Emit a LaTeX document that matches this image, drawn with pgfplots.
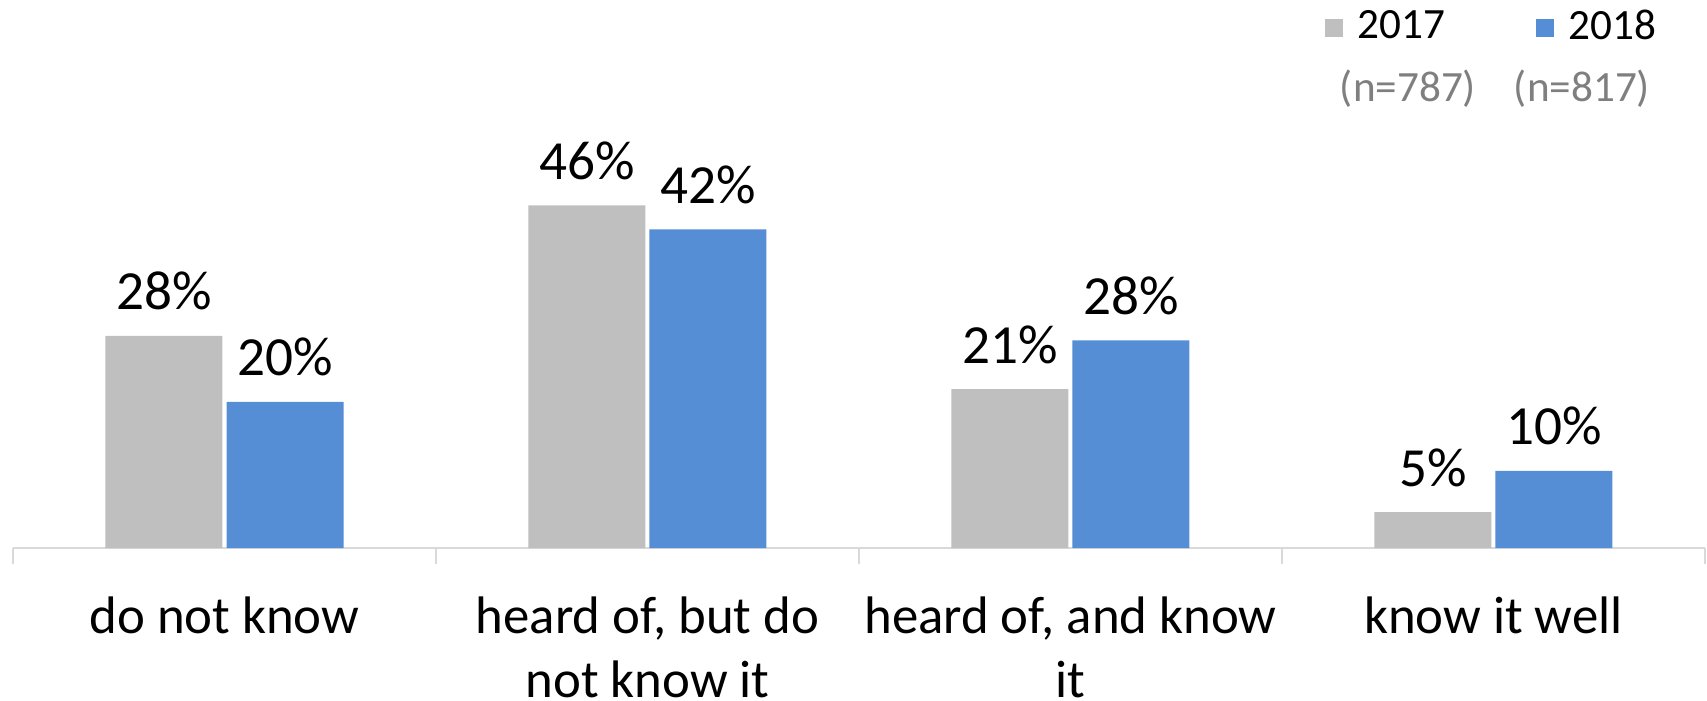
\documentclass[border=0pt]{standalone}
\usepackage{pgfplots}
\pgfplotsset{compat=1.18}
\usepackage{fontspec}
\setmainfont{Carlito}
\definecolor{cgray}{HTML}{BFBFBF}
\definecolor{cblue}{HTML}{558ED5}
\definecolor{axgray}{HTML}{D9D9D9}
\definecolor{ntext}{HTML}{7F7F7F}
\begin{document}
\begin{tikzpicture}
\begin{axis}[
  name=ax,
  scale only axis,
  width=423pt, height=112.5pt,
  xmin=-0.5, xmax=3.5,
  ymin=0, ymax=60,
  clip=false,
  ybar=1pt,
  bar width=29.25pt,
  axis x line*=bottom,
  axis y line=none,
  axis line style={draw=axgray, line width=0.5pt, -},
  xtick={0,1,2,3},
  xticklabels={do not know, {heard of, but do\\not know it}, {heard of, and know\\it}, know it well},
  minor xtick={-0.5,0.5,1.5,2.5,3.5},
  major tick length=0pt,
  minor tick length=4pt,
  tick align=outside,
  minor tick style={draw=axgray, line width=0.5pt},
  xticklabel style={font=\fontsize{13.2}{16}\selectfont, align=center, anchor=north, yshift=-12.1pt, inner sep=0pt, text=black},
  point meta=explicit symbolic,
  nodes near coords={\pgfplotspointmeta\%},
  every node near coord/.append style={font=\fontsize{13.8}{16}\selectfont, anchor=base, yshift=6.5pt, inner sep=0pt, text=black},
  legend columns=2,
  legend style={draw=none, at={(0.7754,1.1567)}, anchor=west, inner sep=0pt, outer sep=0pt,
    font=\fontsize{10.8}{13}\selectfont,
    nodes={inner sep=0pt},
    /tikz/every odd column/.append style={column sep=3.75pt},
    /tikz/every even column/.append style={column sep=22.5pt}},
  legend image code/.code={\fill[#1] (0pt,-2.25pt) rectangle (4.5pt,2.25pt);},
]
\addplot[fill=cgray, draw=none] coordinates {(0,28.3) [28] (1,45.7) [46] (2,21.2) [21] (3,4.8) [5]};
\addplot[fill=cblue, draw=none] coordinates {(0,19.5) [20] (1,42.5) [42] (2,27.7) [28] (3,10.3) [10]};
\legend{2017,2018}
\node[font=\fontsize{10.8}{13}\selectfont, text=ntext, anchor=base, inner sep=0pt] at (rel axis cs:0.8245,0.9933) {(n=787)};
\node[font=\fontsize{10.8}{13}\selectfont, text=ntext, anchor=base, inner sep=0pt] at (rel axis cs:0.9273,0.9933) {(n=817)};
\end{axis}
\pgfresetboundingbox
\path[use as bounding box] (ax.south west) ++(-3.25pt,-38pt) rectangle ++(426.75pt,175pt);
\end{tikzpicture}
\end{document}
